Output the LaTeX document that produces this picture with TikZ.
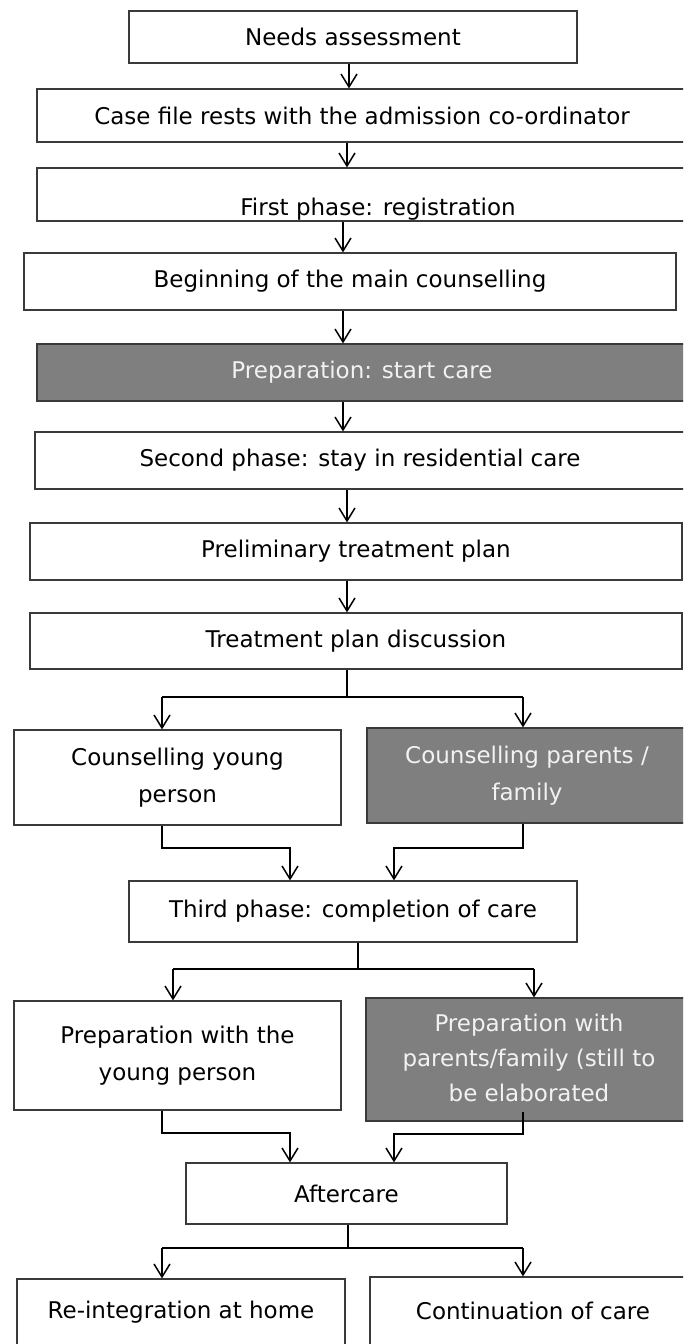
\documentclass[tikz,border=0pt]{standalone}
\usepackage{fontspec}
\setmainfont{DejaVu Sans}
\usetikzlibrary{arrows.meta}
\definecolor{boxline}{HTML}{3A3A3A}
\definecolor{gfill}{HTML}{7F7F7F}
\definecolor{gtext}{HTML}{F2F2F2}
\begin{document}
\begin{tikzpicture}[x=1pt,y=-1pt,
  box/.style={draw=boxline, line width=1.2pt, fill=white, inner sep=0pt, text=black,
    font=\fontsize{23}{37}\selectfont, align=center},
  gbox/.style={box, fill=gfill, text=gtext},
  plain/.style={inner sep=0pt, font=\fontsize{23}{37}\selectfont},
  arr/.style={line width=1.5pt, -{Straight Barb[length=13pt,width=16pt,line width=1.5pt]}},
  ln/.style={line width=1.5pt}]
\path[use as bounding box, fill=white] (0,0) rectangle (683,1344);
\clip (0,0) rectangle (683,1344);
% boxes
\node[box, minimum width=448pt, minimum height=52pt] (needs) at (353,37) {\raisebox{-3pt}{Needs assessment}};
\node[box, minimum width=650pt, minimum height=53pt] (casefile) at (362,115.5) {Case file rests with the admission co-ordinator};
\node[box, minimum width=663pt, minimum height=53pt] (first) at (368.5,194.5) {};
\begin{scope}
  \clip (37,168) rectangle (700,221);
  \node[plain, anchor=base] (firsttext) at (378,215) {First phase: registration};
\end{scope}
\node[box, minimum width=652pt, minimum height=57pt] (begin) at (350,281.5) {\raisebox{-3pt}{Beginning of the main counselling}};
\node[gbox, minimum width=650pt, minimum height=57pt] (prep) at (362,372.5) {\raisebox{-3pt}{Preparation: start care}};
\node[box, minimum width=650pt, minimum height=57pt] (second) at (360,460.5) {\raisebox{4pt}{Second phase: stay in residential care}};
\node[box, minimum width=652pt, minimum height=57pt] (prelim) at (356,551.5) {Preliminary treatment plan};
\node[box, minimum width=652pt, minimum height=56pt] (treat) at (356,641) {Treatment plan discussion};
\node[box, minimum width=327pt, minimum height=95pt] (cyoung) at (177.5,777.5) {Counselling young\\person};
\node[gbox, minimum width=320pt, minimum height=95pt] (cpar) at (527,775.5) {Counselling parents /\\family};
\node[box, minimum width=448pt, minimum height=61pt] (third) at (353,911.5) {Third phase: completion of care};
\node[box, minimum width=327pt, minimum height=109pt] (pyoung) at (177.5,1055.5) {Preparation with the\\young person};
\node[gbox, minimum width=326pt, minimum height=123pt, font=\fontsize{23}{35}\selectfont] (ppar) at (529,1059.5) {\raisebox{-3pt}{\begin{tabular}{@{}c@{}}Preparation with\\parents/family (still to\\be elaborated\end{tabular}}};
\node[box, minimum width=321pt, minimum height=61pt] (after) at (346.5,1193.5) {Aftercare};
\node[box, minimum width=328pt, minimum height=66pt] (reint) at (181,1312) {Re-integration at home};
\node[box, minimum width=326pt, minimum height=68pt] (cont) at (533,1311) {Continuation of care};
% straight arrows
\coordinate (x1) at (349,0);
\coordinate (x2) at (347,0);
\coordinate (x3) at (343,0);
\draw[arr] (needs.south -| x1) -- (casefile.north -| x1);
\draw[arr] (casefile.south -| x2) -- (first.north -| x2);
\draw[arr] (first.south -| x3) -- (begin.north -| x3);
\draw[arr] (begin.south -| x3) -- (prep.north -| x3);
\draw[arr] (prep.south -| x3) -- (second.north -| x3);
\draw[arr] (second.south -| x2) -- (prelim.north -| x2);
\draw[arr] (prelim.south -| x2) -- (treat.north -| x2);
% split 1
\coordinate (s1) at (347,697);
\coordinate (s1l) at (162,697);
\coordinate (s1r) at (523,697);
\draw[ln] (treat.south -| s1) -- (s1);
\draw[ln] (s1l) -- (s1r);
\draw[arr] (s1l) -- (s1l |- cyoung.north);
\draw[arr] (s1r) -- (s1r |- cpar.north);
% merge 1
\coordinate (m1a) at (162,848);
\coordinate (m1b) at (290,848);
\coordinate (m1c) at (523,848);
\coordinate (m1d) at (394,848);
\draw[arr] (cyoung.south -| m1a) -- (m1a) -- (m1b) -- (m1b |- third.north);
\draw[arr] (cpar.south -| m1c) -- (m1c) -- (m1d) -- (m1d |- third.north);
% split 2
\coordinate (s2) at (358,969);
\coordinate (s2l) at (173,969);
\coordinate (s2r) at (534,969);
\draw[ln] (third.south -| s2) -- (s2);
\draw[ln] (s2l) -- (s2r);
\draw[arr] (s2l) -- (s2l |- pyoung.north);
\draw[arr] (s2r) -- (s2r |- ppar.north);
% merge 2
\coordinate (m2a) at (162,1133);
\coordinate (m2b) at (290,1133);
\coordinate (m2s) at (523,1112);
\coordinate (m2c) at (523,1134);
\coordinate (m2d) at (394,1134);
\draw[arr] (pyoung.south -| m2a) -- (m2a) -- (m2b) -- (m2b |- after.north);
\draw[arr] (m2s) -- (m2c) -- (m2d) -- (m2d |- after.north);
% split 3
\coordinate (s3) at (348,1248);
\coordinate (s3l) at (162,1248);
\coordinate (s3r) at (523,1248);
\draw[ln] (after.south -| s3) -- (s3);
\draw[ln] (s3l) -- (s3r);
\draw[arr] (s3l) -- (s3l |- reint.north);
\draw[arr] (s3r) -- (s3r |- cont.north);
\end{tikzpicture}
\end{document}
